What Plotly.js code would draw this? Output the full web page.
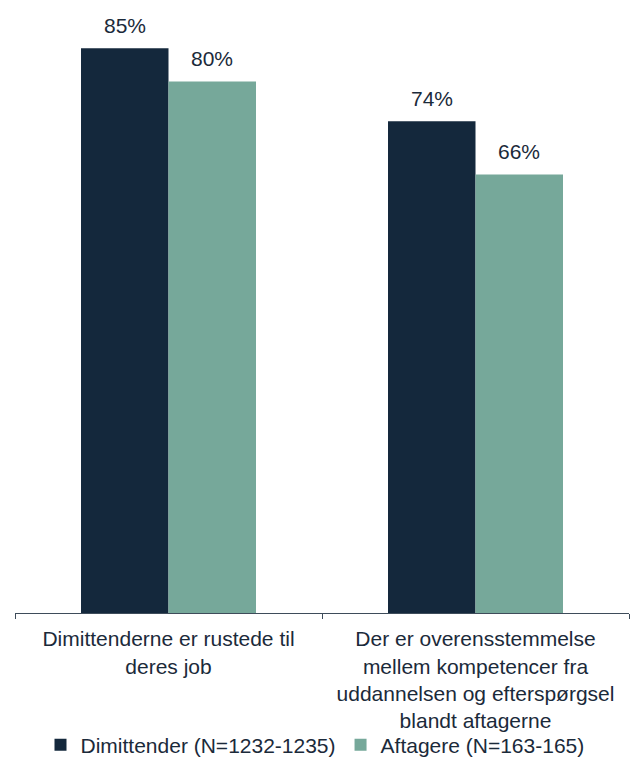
<!DOCTYPE html>
<html><head><meta charset="utf-8">
<script src="https://cdn.plot.ly/plotly-3.0.1.min.js"></script>
<style>body{margin:0;background:#fff}#c{width:630px;height:758px}</style>
</head><body><div id="c"></div>
<script>
const categories = ["Dimittenderne er rustede til<br>deres job", "Der er overensstemmelse<br>mellem kompetencer fra<br>uddannelsen og efterspørgsel<br>blandt aftagerne"];
const seriesNames = ["Dimittender (N=1232-1235)", "Aftagere (N=163-165)"];
const dimittender = [85, 74];
const aftagere = [80, 66];
const colors = ["#14283c", "#76a89a"];
const font = "Liberation Sans, Arial, sans-serif";
const textColor = "#1b2a3a";
const series = [dimittender, aftagere];
const traces = series.map((vals, i) => ({
  type: "bar", x: categories, y: vals, name: seriesNames[i],
  marker: {color: colors[i]},
  hoverinfo: "skip"
}));
const annotations = [];
series.forEach((vals, i) => vals.forEach((v, j) => annotations.push({
  x: categories[j], y: v, xref: "x", yref: "y", text: v + "%", showarrow: false,
  xshift: (i === 0 ? -1 : 1) * 43.75, yshift: 23, yanchor: "middle",
  font: {family: font, size: 21, color: textColor}
})));
const layout = {
  width: 630, height: 758,
  margin: {l: 15, r: 1, t: 15, b: 145},
  barmode: "group", bargap: 0.43, bargroupgap: 0,
  paper_bgcolor: "#fff", plot_bgcolor: "#fff",
  font: {family: font, size: 21, color: textColor},
  annotations: annotations,
  xaxis: {showline: true, linecolor: "#3e4c5a", linewidth: 1, ticks: "outside", tickson: "boundaries",
          ticklen: 5, tickcolor: "#3e4c5a", ticklabelstandoff: 7,
          tickfont: {family: font, size: 21, color: textColor}, automargin: false},
  yaxis: {range: [0, 90], visible: false, showgrid: false, zeroline: false},
  showlegend: true,
  legend: {orientation: "h", x: 0.5, xanchor: "center", xref: "container", yref: "container", y: 0.017, yanchor: "middle",
           bgcolor: "rgba(0,0,0,0)",
           font: {family: font, size: 21, color: textColor}, itemwidth: 30, traceorder: "normal"}
};
Plotly.newPlot("c", traces, layout, {displayModeBar: false, staticPlot: true});
</script></body></html>
